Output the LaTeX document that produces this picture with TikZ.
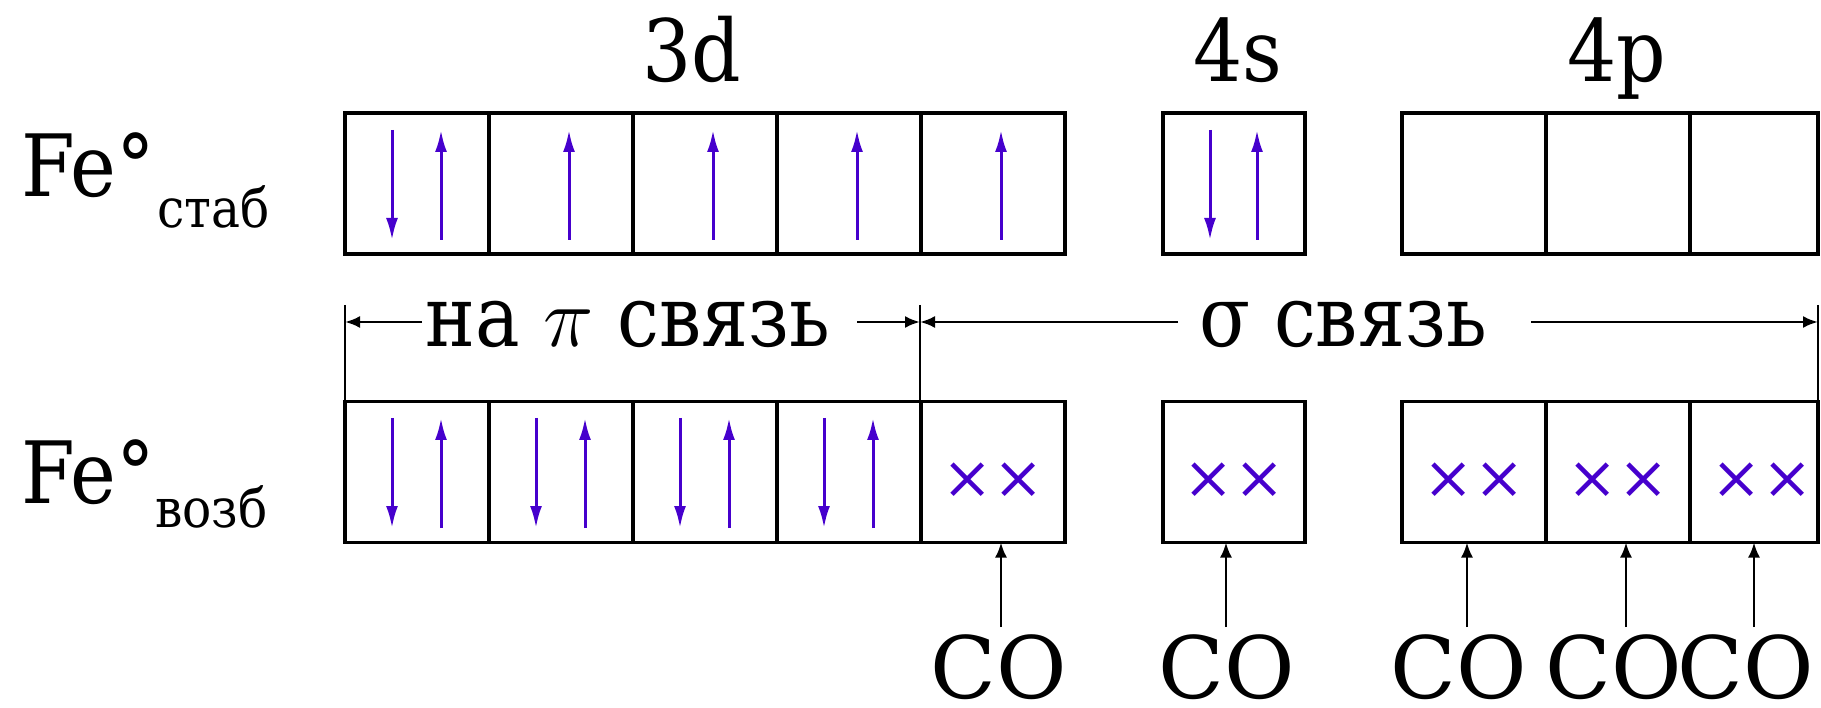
\RequirePackage{fix-cm}
\documentclass[tikz,border=0pt]{standalone}
\usepackage{fontspec}
\setmainfont{DejaVu Serif}[FakeStretch=0.9]
\newfontfamily\cyrlab{DejaVu Serif}[FakeStretch=0.88]
\newfontfamily\plainserif{DejaVu Serif}
\usetikzlibrary{arrows.meta}
\definecolor{elec}{RGB}{70,0,205}
\begin{document}
\begin{tikzpicture}[x=1pt,y=-1pt,
  cell/.style={draw,line width=3.5pt,minimum width=144pt,minimum height=141pt,inner sep=0pt,outer sep=0pt},
  big/.style={font=\fontsize{86}{100}\selectfont,inner sep=0pt},
  colbl/.style={font=\plainserif\fontsize{86}{100}\selectfont,inner sep=0pt},
  bondlbl/.style={font=\cyrlab\fontsize{85}{100}\selectfont,inner sep=0pt},
  subtxt/.style={font=\fontsize{54}{64}\selectfont,inner sep=0pt},
  spin/.style={elec,line width=3pt,-{Latex[length=22pt,width=12pt]}},
  pairx/.style={text=elec,font=\plainserif\fontsize{60}{70}\selectfont,inner sep=0pt},
  brarr/.style={line width=2.5pt,-{Latex[length=15pt,width=12pt]}},
  tickline/.style={line width=2pt},
  coarr/.style={line width=2.5pt,-{Latex[length=15pt,width=12pt]}}
]
\useasboundingbox (0,0) rectangle (1821,708);

% ---------- top labels ----------
\node[big,anchor=base] (l3d) at (692,82) {3d};
\node[big,anchor=base] (l4s) at (1238,82) {4s};
\node[big,anchor=base] (l4p) at (1617,82) {4p};

% ---------- row labels ----------
\node[big,anchor=base west] (fe1) at (21,197) {Fe°};
\node[subtxt,anchor=base west] (fe1s) at (157,228) {стаб};
\node[big,anchor=base west] (fe2) at (21,503) {Fe°};
\node[subtxt,anchor=base west] (fe2s) at (155,527) {возб};

% ---------- top row cells ----------
\node[cell] (d1) at (417,183.5) {};
\node[cell] (d2) at (561,183.5) {};
\node[cell] (d3) at (705,183.5) {};
\node[cell] (d4) at (849,183.5) {};
\node[cell] (d5) at (993,183.5) {};
\node[cell,minimum width=142pt] (s1) at (1234,183.5) {};
\node[cell] (p1) at (1474,183.5) {};
\node[cell] (p2) at (1618,183.5) {};
\node[cell,minimum width=128pt] (p3) at (1754,183.5) {};

% ---------- bottom row cells ----------
\node[cell] (e1) at (417,472) {};
\node[cell] (e2) at (561,472) {};
\node[cell] (e3) at (705,472) {};
\node[cell] (e4) at (849,472) {};
\node[cell] (e5) at (993,472) {};
\node[cell,minimum width=142pt] (t1) at (1234,472) {};
\node[cell] (q1) at (1474,472) {};
\node[cell] (q2) at (1618,472) {};
\node[cell,minimum width=128pt] (q3) at (1754,472) {};

% ---------- electrons, top row ----------
\draw[spin] (392,130) -- (392,240);
\draw[spin] (441,240) -- (441,130);
\foreach \x in {569,713,857,1001} \draw[spin] (\x,240) -- (\x,130);
\draw[spin] (1210,130) -- (1210,240);
\draw[spin] (1257,240) -- (1257,130);

% ---------- electrons, bottom row ----------
\foreach \c in {417,561,705,849} {
  \draw[spin] (\c-25,418) -- (\c-25,528);
  \draw[spin] (\c+24,528) -- (\c+24,418);
}
\node[pairx] (x1) at (993,481) {××};
\node[pairx] (x2) at (1234,481) {××};
\node[pairx] (x3) at (1474,481) {××};
\node[pairx] (x4) at (1618,481) {××};
\node[pairx] (x5) at (1762,481) {××};

% ---------- bond brackets ----------
\coordinate (v1t) at (345,305);
\coordinate (v2t) at (920,305);
\coordinate (v3t) at (1818,305);
\draw[tickline] (v1t) -- (v1t |- e1.north);
\draw[tickline] (v2t) -- (v2t |- e5.north);
\draw[tickline] (v3t) -- (v3t |- q3.north);

\node[bondlbl,anchor=base] (pit) at (628,347) {на $\pi$ связь};
\node[bondlbl,anchor=base] (sgt) at (1343,347) {σ связь};

\coordinate (pil) at (422,322);
\coordinate (pir) at (857,322);
\coordinate (sgl) at (1178,322);
\coordinate (sgr) at (1531,322);
\draw[brarr] (pil) -- (pil -| v1t);
\draw[brarr] (pir) -- (pir -| v2t);
\draw[brarr] (sgl) -- (sgl -| v2t);
\draw[brarr] (sgr) -- (sgr -| v3t);

% ---------- CO ligands ----------
\node[colbl,anchor=base] (co1) at (999,698) {CO};
\node[colbl,anchor=base] (co2) at (1227,698) {CO};
\node[colbl,anchor=base] (co3) at (1459,698) {CO};
\node[colbl,anchor=base] (co4) at (1614,698) {CO};
\node[colbl,anchor=base] (co5) at (1746,698) {CO};

\coordinate (k1) at (1001,627);
\coordinate (k2) at (1226,627);
\coordinate (k3) at (1467,627);
\coordinate (k4) at (1626,627);
\coordinate (k5) at (1754,627);
\draw[coarr] (k1) -- (k1 |- e5.south);
\draw[coarr] (k2) -- (k2 |- t1.south);
\draw[coarr] (k3) -- (k3 |- q1.south);
\draw[coarr] (k4) -- (k4 |- q2.south);
\draw[coarr] (k5) -- (k5 |- q3.south);
\end{tikzpicture}
\end{document}
